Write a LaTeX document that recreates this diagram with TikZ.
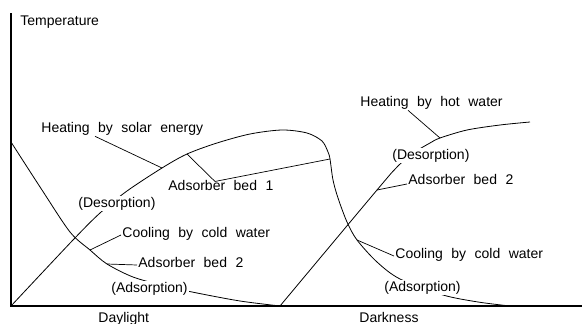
\documentclass[tikz,border=0pt]{standalone}
\usepackage{fontspec}
\setmainfont{Liberation Sans}
\newcommand\lblfont{\fontsize{14}{16}\selectfont\spaceskip=8.5pt\relax}

\begin{document}
\begin{tikzpicture}[x=1pt,y=-1pt,line width=0.8pt]
\tikzstyle{lbl} = [anchor=base west,inner sep=1pt,fill=white,font=\lblfont]
\useasboundingbox (0,0) rectangle (582,324);

    % axes
    \coordinate (O) at (11,306);
    \coordinate (ytop) at (11,13);
    \coordinate (xend) at (582,306);
    \draw[line width=1.2pt] (ytop) -- (O) -- (xend);

    % points where the leaders meet the curves
    \coordinate (solarpt) at (162,168);
    \coordinate (bedonea) at (187,154);
    \coordinate (bedoneb) at (330,159);
    \coordinate (coolrpt) at (357,240);
    \coordinate (coollpt) at (90,250);
    \coordinate (bedtwolpt) at (107,264);
    \coordinate (bedtworpt) at (377,190);
    \coordinate (hotpt) at (440,138);

    % bed 1: heating, then cooling at night
    \draw plot[smooth] coordinates {(11,306) (73,240) (100,213) (127,191) (162,168) (187,154)
        (217,143) (250,134) (282,130) (307,133) (322,141) (328,152) (330,159) (333,180)
        (338,198) (347,222) (357,240) (377,262) (400,279) (443,295) (478,302) (510,306)};
    % bed 2: cooling by day
    \draw plot[smooth] coordinates {(11,142) (42,190) (70,232) (90,250) (107,264) (133,277)
        (165,286) (197,293) (240,301) (280,306)};
    % bed 2: heating at night
    \draw plot[smooth] coordinates {(280,306) (377,190) (398,166) (415,152) (430,143)
        (440,138) (467,130) (500,125) (530,122)};

    \node[lbl,fill=none] (temp) at (19,25) {Temperature};
    \node[lbl] (solar) at (40,132) {Heating by solar energy};
    \node[lbl] (hot) at (359,106) {Heating by hot water};
    \node[lbl] (desr) at (391,159) {(Desorption)};
    \node[lbl] (bedone) at (167,190) {Adsorber bed 1};
    \node[lbl] (desl) at (77,207) {(Desorption)};
    \node[lbl] (bedtwor) at (407,184) {Adsorber bed 2};
    \node[lbl] (cooll) at (121,237) {Cooling by cold water};
    \node[lbl] (bedtwol) at (137,267) {Adsorber bed 2};
    \node[lbl] (adsl) at (110,292) {(Adsorption)};
    \node[lbl] (coolr) at (394,258) {Cooling by cold water};
    \node[lbl] (adsr) at (383,291) {(Adsorption)};
    \node[lbl,fill=none] (day) at (97,322) {Daylight};
    \node[lbl,fill=none] (dark) at (358,322) {Darkness};

    \tikzset{leader/.style={line width=0.7pt}}
    \draw[leader] ([xshift=55pt]solar.south west) -- (solarpt);
    \draw[leader] (bedonea) -- ([xshift=48pt,yshift=-3pt]bedone.north west) -- (bedoneb);
    \draw[leader] ([xshift=49pt]hot.south west) -- (hotpt);
    \draw[leader] (bedtworpt) -- (bedtwor.base west);
    \draw[leader] (coollpt) -- ([yshift=2pt]cooll.base west);
    \draw[leader] (bedtwolpt) -- ([yshift=2pt]bedtwol.base west);
    \draw[leader] (coolrpt) -- ([yshift=2pt]coolr.base west);
\end{tikzpicture}
\end{document}
